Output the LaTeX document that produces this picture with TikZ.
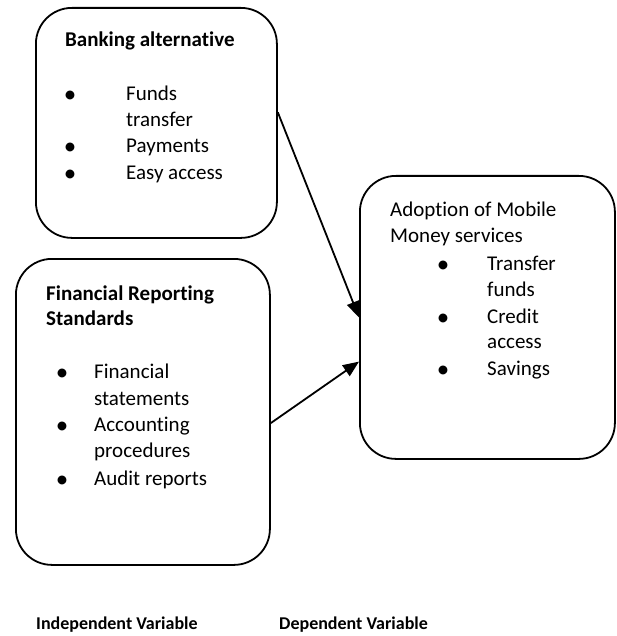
\documentclass[tikz,border=0pt]{standalone}
\usepackage{fontspec}
\setmainfont{Carlito}[RawFeature={-liga}]
\usetikzlibrary{arrows.meta}

\tikzset{
    varbox/.style={draw, line width=1.8pt, rounded corners=36pt, anchor=north west, inner sep=0pt},
    txt/.style={anchor=base west, inner sep=0pt, font=\fontsize{21}{26}\selectfont},
    head/.style={txt, font=\fontsize{21}{26}\selectfont\bfseries},
    caption/.style={txt, font=\fontsize{18}{22}\selectfont\bfseries},
    bul/.style={anchor=base, inner sep=0pt, font=\fontsize{25}{26}\selectfont},
    link/.style={line width=1.8pt, -{Triangle[length=16pt,width=13pt]}}
}

\begin{document}
\begin{tikzpicture}[x=1pt, y=-1pt]
    \useasboundingbox (0,0) rectangle (616,636);
    % boxes
    \node[varbox, minimum width=241pt, minimum height=230pt] (bank) at (35,7) {};
    \node[varbox, minimum width=254pt, minimum height=306pt] (fin) at (15,258) {};
    \node[varbox, minimum width=255pt, minimum height=283pt] (adopt) at (359,175) {};
    % banking alternative
    \node[head] (bankhead) at (65,47) {Banking alternative};
    \node[bul] (bankb1) at (70,103) {•};
    \node[txt] (bank1) at (126,101) {Funds};
    \node[txt] (bank2) at (126,127) {transfer};
    \node[bul] (bankb2) at (70,155) {•};
    \node[txt] (bank3) at (126,153) {Payments};
    \node[bul] (bankb3) at (70,182) {•};
    \node[txt] (bank4) at (126,180) {Easy access};
    % financial reporting standards
    \node[head] (finhead1) at (46,300) {Financial Reporting};
    \node[head] (finhead2) at (46,325) {Standards};
    \node[bul] (finb1) at (62,380) {•};
    \node[txt] (fin1) at (94,378) {Financial};
    \node[txt] (fin2) at (94,405) {statements};
    \node[bul] (finb2) at (62,433) {•};
    \node[txt] (fin3) at (94,431) {Accounting};
    \node[txt] (fin4) at (94,457) {procedures};
    \node[bul] (finb3) at (62,487) {•};
    \node[txt] (fin5) at (94,485) {Audit reports};
    % adoption of mobile money
    \node[txt] (adopthead1) at (390,216) {Adoption of Mobile};
    \node[txt] (adopthead2) at (390,242) {Money services};
    \node[bul] (adoptb1) at (443,272) {•};
    \node[txt] (adopt1) at (487,270) {Transfer};
    \node[txt] (adopt2) at (487,296) {funds};
    \node[bul] (adoptb2) at (443,325) {•};
    \node[txt] (adopt3) at (487,323) {Credit};
    \node[txt] (adopt4) at (487,348) {access};
    \node[bul] (adoptb3) at (443,377) {•};
    \node[txt] (adopt5) at (487,375) {Savings};
    % captions
    \node[caption] (indep) at (36,629) {Independent Variable};
    \node[caption] (dep) at (279,629) {Dependent Variable};
    % arrows
    \draw[link] (bank.5) -- (adopt.west);
    \draw[link] (fin.-5) -- (adopt.199);
\end{tikzpicture}
\end{document}
